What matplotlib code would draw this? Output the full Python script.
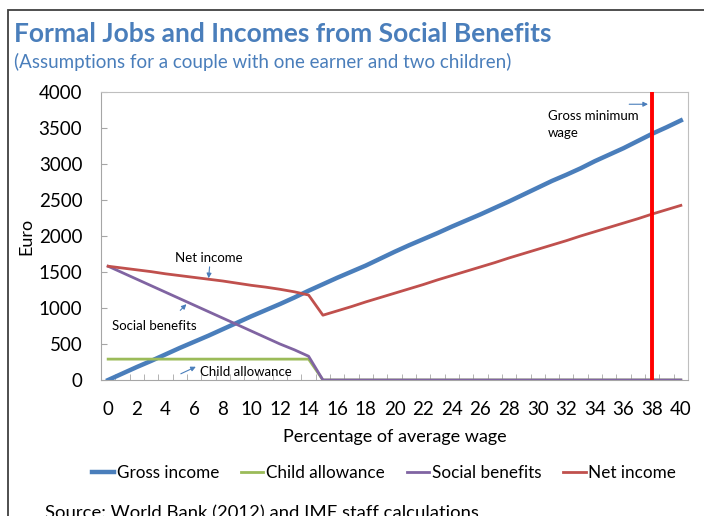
import matplotlib.pyplot as plt
from matplotlib.patches import Rectangle

plt.rcParams['font.family'] = ['Lato', 'DejaVu Sans']

# percentage of average wage
pct = list(range(0, 41))

# Euro
gross_income = [0, 90, 180, 265, 355, 445, 530, 615, 705, 795, 885, 970, 1055, 1145, 1240,
                1330, 1420, 1505, 1590, 1685, 1780, 1870, 1955, 2040, 2130, 2215, 2300, 2390,
                2480, 2575, 2670, 2765, 2850, 2940, 3040, 3130, 3220, 3320, 3420, 3510, 3605]
child_allowance = [290] * 15 + [0] * 26
social_benefits = [1580, 1490, 1400, 1310, 1220, 1130, 1040, 950, 860, 770, 680, 590, 500, 420, 330] + [0] * 26
net_income = [1580, 1555, 1530, 1505, 1475, 1450, 1425, 1400, 1375, 1345, 1315, 1290, 1260, 1225, 1180,
              900, 960, 1020, 1085, 1145, 1205, 1265, 1325, 1390, 1450, 1510, 1570, 1630, 1695,
              1755, 1815, 1875, 1935, 2000, 2060, 2120, 2180, 2240, 2305, 2365, 2425]
min_wage_pct = 38

fig = plt.figure(figsize=(7.04, 5.16), dpi=100)
ax = fig.add_axes([101 / 704, 1 - 380 / 516, 587 / 704, 288 / 516])

# outer frame of the box
fig.patches.append(Rectangle((8 / 704, -0.1), 1.0, 1 - 10 / 516 + 0.1, transform=fig.transFigure,
                             fill=False, edgecolor='#404040', linewidth=1.3))

title_blue = '#4A7EBB'
fig.text(14 / 704, 1 - 34 / 516, 'Formal Jobs and Incomes from Social Benefits', fontsize=19,
         fontweight='bold', color=title_blue, va='center')
fig.text(14 / 704, 1 - 62 / 516, '(Assumptions for a couple with one earner and two children)',
         fontsize=13.5, color=title_blue, va='center')

ax.plot(pct, gross_income, color='#4A7EBB', linewidth=3.2, label='Gross income', zorder=3)
ax.plot(pct, child_allowance, color='#9BBB59', linewidth=2, label='Child allowance', zorder=3)
ax.plot(pct, social_benefits, color='#8064A2', linewidth=2, label='Social benefits', zorder=3)
ax.plot(pct, net_income, color='#C0504D', linewidth=2, label='Net income', zorder=3)
ax.axvline(min_wage_pct, color='#FF0000', linewidth=2.8, zorder=4)

ax.set_xlim(-0.5, 40.5)
ax.set_ylim(0, 4000)
ax.set_yticks(range(0, 4001, 500))
ax.set_xticks(range(0, 41, 2))
ax.set_xticks([i + 0.5 for i in range(-1, 41)], minor=True)
ax.tick_params(axis='x', which='major', length=0, labelsize=13.5, pad=15)
ax.tick_params(axis='x', which='minor', direction='in', length=4, color='#A6A6A6')
ax.tick_params(axis='y', direction='in', length=4, color='#A6A6A6', labelsize=13.5, pad=13.5)
for s in ax.spines.values():
    s.set_color('#BFBFBF')
ax.spines['left'].set_color('#A6A6A6')
ax.spines['bottom'].set_color('#A6A6A6')

ax.set_xlabel('Percentage of average wage', fontsize=13, labelpad=8)
ax.set_ylabel('Euro', fontsize=13, labelpad=3)

arrow = dict(arrowstyle='-|>', color='#4A7EBB', lw=0.8, mutation_scale=7)
ax.annotate('', xy=(7, 1375), xytext=(7.1, 1610), arrowprops=arrow)
ax.text(7, 1700, 'Net income', fontsize=9.5, ha='center', va='center')
ax.annotate('', xy=(5.6, 1080), xytext=(4.9, 940), arrowprops=arrow)
ax.text(3.2, 750, 'Social benefits', fontsize=9.5, ha='center', va='center')
ax.annotate('', xy=(6.3, 200), xytext=(4.9, 70), arrowprops=arrow)
ax.text(9.6, 110, 'Child allowance', fontsize=9.5, ha='center', va='center')
ax.annotate('', xy=(37.9, 3830), xytext=(36.2, 3830), arrowprops=arrow)
ax.text(30.7, 3550, 'Gross minimum\nwage', fontsize=9.5, ha='left', va='center', linespacing=1.45)

fig.legend(loc='center', bbox_to_anchor=(384 / 704, 1 - 473 / 516), ncol=4, frameon=False,
           fontsize=12.3, handlelength=1.3, handletextpad=0.15, columnspacing=1.3)

fig.text(45 / 704, 1 - 505 / 516, 'Source: World Bank (2012) and IMF staff calculations',
         fontsize=13.3, va='top')

fig.savefig('out.png', dpi=100)
